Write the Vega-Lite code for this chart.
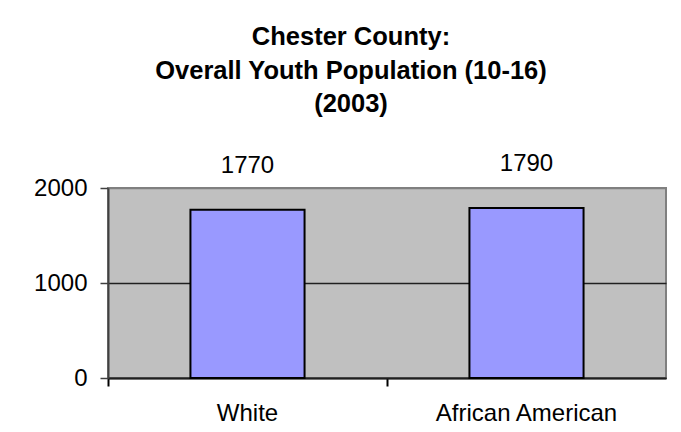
{
  "$schema": "https://vega.github.io/schema/vega-lite/v6.json",
  "autosize": "none",
  "width": 558,
  "height": 190,
  "padding": {"left": 108, "top": 188, "right": 15, "bottom": 54},
  "background": "white",
  "title": {
    "text": ["Chester County:", "Overall Youth Population (10-16)", "(2003)"],
    "font": "Liberation Sans",
    "fontSize": 25.5,
    "fontWeight": "bold",
    "color": "black",
    "lineHeight": 33.5,
    "anchor": "middle",
    "baseline": "bottom",
    "dx": -36,
    "offset": 9
  },
  "data": {
    "values": [
      {"group": "White", "population": 1770},
      {"group": "African American", "population": 1790}
    ]
  },
  "encoding": {
    "x": {
      "field": "group",
      "type": "nominal",
      "sort": null,
      "scale": {"paddingInner": 0, "paddingOuter": 0},
      "axis": {
        "title": null,
        "labelAngle": 0,
        "labelFont": "Liberation Sans",
        "labelFontSize": 24,
        "labelColor": "black",
        "labelPadding": 15,
        "labelLimit": 400,
        "bandPosition": 0,
        "tickSize": 8,
        "tickColor": "black",
        "tickWidth": 2,
        "domainColor": "#202020",
        "domainWidth": 2,
        "grid": false
      }
    },
    "y": {
      "field": "population",
      "type": "quantitative",
      "scale": {"domain": [0, 2000], "nice": false},
      "axis": {
        "title": null,
        "values": [0, 1000, 2000],
        "format": "d",
        "labelFont": "Liberation Sans",
        "labelFontSize": 24,
        "labelColor": "black",
        "labelPadding": 13,
        "tickSize": 8,
        "tickColor": "#404040",
        "tickWidth": 1.5,
        "domainColor": "#404040",
        "domainWidth": 2,
        "grid": true,
        "gridColor": {"condition": {"test": "datum.value == 2000", "value": "#808080"}, "value": "#202020"},
        "gridWidth": 1.5,
        "gridOpacity": 1
      }
    }
  },
  "layer": [
    {
      "mark": {"type": "bar", "width": {"band": 0.409}, "fill": "#9999FF", "stroke": "black", "strokeWidth": 2}
    },
    {
      "mark": {"type": "text", "baseline": "bottom", "dy": -32, "font": "Liberation Sans", "fontSize": 24, "color": "black"},
      "encoding": {"text": {"field": "population", "type": "quantitative"}}
    }
  ],
  "config": {
    "view": {"fill": "#C0C0C0", "stroke": "#808080", "strokeWidth": 2}
  }
}
